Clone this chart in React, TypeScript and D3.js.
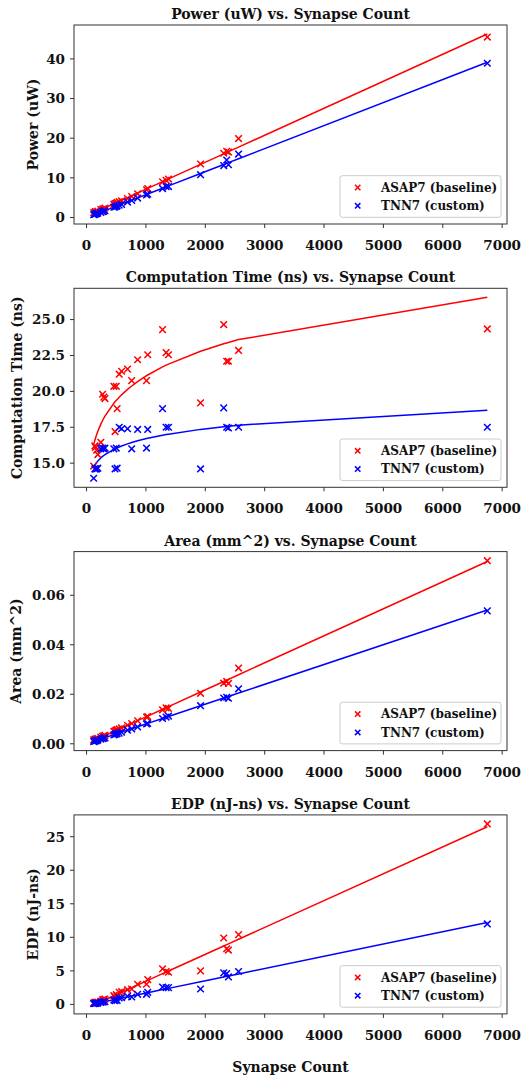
import React, { useEffect, useRef } from 'react';
import * as d3 from 'd3';

const SYNAPSES = [120, 140, 150, 170, 190, 240, 270, 290, 310, 460, 480, 500, 515, 550, 590, 690, 760, 860, 1010, 1030, 1280, 1340, 1380, 1920, 2310, 2360, 2390, 2560, 6750];

const POWER_ASAP7 = [1.2, 1.3, 1.5, 1.4, 1.6, 2.0, 2.1, 2.2, 2.4, 3.3, 3.5, 3.6, 3.8, 4.0, 4.2, 4.8, 5.3, 6.0, 7.0, 7.3, 9.0, 9.4, 9.7, 13.5, 16.2, 16.7, 16.5, 19.9, 45.5];
const POWER_TNN7 = [0.7, 0.8, 0.9, 1.0, 1.1, 1.3, 1.5, 1.6, 1.7, 2.6, 2.7, 2.8, 2.9, 3.1, 3.3, 3.9, 4.3, 4.9, 5.7, 5.9, 7.3, 7.8, 7.8, 10.8, 13.1, 14.5, 13.3, 16.0, 38.9];

const TIME_ASAP7 = [14.8, 16.2, 16.1, 15.9, 15.6, 16.45, 19.8, 19.6, 19.5, 20.35, 17.2, 20.35, 18.8, 21.2, 21.4, 21.55, 20.75, 22.2, 20.75, 22.55, 24.3, 22.7, 22.55, 19.2, 24.65, 22.1, 22.1, 22.85, 24.35];
const TIME_TNN7 = [13.95, 14.6, 14.6, 14.6, 14.65, 16.0, 16.05, 16.0, 16.05, 16.0, 14.6, 16.05, 14.65, 17.5, 17.4, 17.4, 16.0, 17.35, 16.05, 17.35, 18.8, 17.5, 17.5, 14.6, 18.85, 17.5, 17.45, 17.5, 17.5];

const AREA_ASAP7 = [0.0016, 0.0017, 0.0019, 0.002, 0.0022, 0.0027, 0.003, 0.0032, 0.0034, 0.005, 0.0052, 0.0055, 0.0057, 0.006, 0.0064, 0.0075, 0.0082, 0.0093, 0.0108, 0.011, 0.0137, 0.0145, 0.0143, 0.0204, 0.0245, 0.0252, 0.0244, 0.0306, 0.074];
const AREA_TNN7 = [0.0009, 0.0011, 0.0012, 0.0013, 0.0015, 0.0019, 0.0021, 0.0023, 0.0024, 0.0036, 0.0038, 0.004, 0.0041, 0.0043, 0.0047, 0.0055, 0.006, 0.0068, 0.008, 0.0082, 0.0102, 0.0108, 0.0112, 0.0154, 0.0185, 0.0188, 0.0184, 0.0222, 0.0537];

const EDP_ASAP7 = [0.2, 0.3, 0.3, 0.3, 0.35, 0.5, 0.7, 0.75, 0.8, 1.3, 1.05, 1.45, 1.3, 1.8, 1.9, 2.2, 2.3, 3.0, 3.0, 3.7, 5.3, 4.9, 4.8, 5.0, 9.9, 8.3, 8.1, 10.4, 26.9];
const EDP_TNN7 = [0.1, 0.15, 0.15, 0.2, 0.2, 0.3, 0.35, 0.4, 0.4, 0.65, 0.55, 0.7, 0.6, 0.95, 1.0, 1.2, 1.1, 1.5, 1.5, 1.8, 2.6, 2.5, 2.5, 2.3, 4.7, 4.6, 4.1, 4.9, 12.0];

const SERIES_NAMES = ['ASAP7 (baseline)', 'TNN7 (custom)'];
const SERIES_COLORS = ['#ff0000', '#0000ff'];

const X_TICKS = [0, 1000, 2000, 3000, 4000, 5000, 6000, 7000];
const POWER_TICKS = [0, 10, 20, 30, 40];
const TIME_TICKS = [15, 17.5, 20, 22.5, 25];
const AREA_TICKS = [0, 0.02, 0.04, 0.06];
const EDP_TICKS = [0, 5, 10, 15, 20, 25];

const PANELS = [
  { title: 'Power (uW) vs. Synapse Count', ylabel: 'Power (uW)', series: [POWER_ASAP7, POWER_TNN7], ticks: POWER_TICKS, fmt: d3.format('d'), fit: 'linear', labelX: 33 },
  { title: 'Computation Time (ns) vs. Synapse Count', ylabel: 'Computation Time (ns)', series: [TIME_ASAP7, TIME_TNN7], ticks: TIME_TICKS, fmt: d3.format('.1f'), fit: 'power', labelX: 17 },
  { title: 'Area (mm^2) vs. Synapse Count', ylabel: 'Area (mm^2)', series: [AREA_ASAP7, AREA_TNN7], ticks: AREA_TICKS, fmt: d3.format('.2f'), fit: 'linear', labelX: 16 },
  { title: 'EDP (nJ-ns) vs. Synapse Count', ylabel: 'EDP (nJ-ns)', series: [EDP_ASAP7, EDP_TNN7], ticks: EDP_TICKS, fmt: d3.format('d'), fit: 'linear', labelX: 33 },
];

const FONT = "'DejaVu Serif', serif";

function leastSquares(xs: number[], ys: number[]) {
  const n = xs.length;
  const mx = d3.mean(xs)!;
  const my = d3.mean(ys)!;
  let sxy = 0;
  let sxx = 0;
  for (let i = 0; i < n; i++) {
    sxy += (xs[i] - mx) * (ys[i] - my);
    sxx += (xs[i] - mx) ** 2;
  }
  const b = sxy / sxx;
  return { a: my - b * mx, b };
}

function fitter(kind: string, xs: number[], ys: number[]) {
  if (kind === 'power') {
    const { a, b } = leastSquares(xs.map(Math.log), ys.map(Math.log));
    return (x: number) => Math.exp(a) * Math.pow(x, b);
  }
  const { a, b } = leastSquares(xs, ys);
  return (x: number) => a + b * x;
}

function padded(lo: number, hi: number) {
  const m = (hi - lo) * 0.05;
  return [lo - m, hi + m];
}

export default function App() {
  const svgRef = useRef<SVGSVGElement>(null);

  useEffect(() => {
    const width = 527;
    const height = 1076;
    const svg = d3.select(svgRef.current);
    svg.selectAll('*').remove();
    svg.attr('width', width).attr('height', height).attr('viewBox', `0 0 ${width} ${height}`);

    const left = 74;
    const right = 507;
    const plotH = 199;
    const sortedX = Array.from(new Set(SYNAPSES)).sort((a, b) => a - b);

    const x = d3.scaleLinear()
      .domain(padded(d3.min(SYNAPSES)!, d3.max(SYNAPSES)!))
      .range([left, right]);

    PANELS.forEach((panel, pi) => {
      const top = 25 + pi * 263.3;
      const bottom = top + plotH;
      const g = svg.append('g');

      const fits = panel.series.map(ys => fitter(panel.fit, SYNAPSES, ys));
      const allY: number[] = [];
      panel.series.forEach(ys => allY.push(...ys));
      fits.forEach(f => sortedX.forEach(v => allY.push(f(v))));
      const y = d3.scaleLinear()
        .domain(padded(d3.min(allY)!, d3.max(allY)!))
        .range([bottom, top]);

      g.append('rect')
        .attr('x', left).attr('y', top)
        .attr('width', right - left).attr('height', plotH)
        .attr('fill', '#fff');

      const clipId = `clip${pi}`;
      g.append('clipPath').attr('id', clipId)
        .append('rect')
        .attr('x', left).attr('y', top)
        .attr('width', right - left).attr('height', plotH);

      const plot = g.append('g').attr('clip-path', `url(#${clipId})`);

      // fit lines
      fits.forEach((f, si) => {
        const line = d3.line<number>().x(v => x(v)).y(v => y(f(v)));
        plot.append('path')
          .attr('d', line(sortedX))
          .attr('fill', 'none')
          .attr('stroke', SERIES_COLORS[si])
          .attr('stroke-width', 1.5);
      });

      // scatter markers
      panel.series.forEach((ys, si) => {
        const s = 3.3;
        plot.append('g').selectAll('path')
          .data(SYNAPSES.map((v, i) => [v, ys[i]]))
          .join('path')
          .attr('d', d => {
            const cx = x(d[0]);
            const cy = y(d[1]);
            return `M${cx - s},${cy - s}L${cx + s},${cy + s}M${cx - s},${cy + s}L${cx + s},${cy - s}`;
          })
          .attr('stroke', SERIES_COLORS[si])
          .attr('stroke-width', 1.5)
          .attr('fill', 'none');
      });

      // frame
      g.append('rect')
        .attr('x', left).attr('y', top)
        .attr('width', right - left).attr('height', plotH)
        .attr('fill', 'none')
        .attr('stroke', '#333')
        .attr('stroke-width', 1);

      // x ticks
      X_TICKS.forEach(t => {
        g.append('line')
          .attr('x1', x(t)).attr('x2', x(t))
          .attr('y1', bottom).attr('y2', bottom + 4)
          .attr('stroke', '#333');
        g.append('text')
          .attr('x', x(t)).attr('y', bottom + 26)
          .attr('text-anchor', 'middle')
          .attr('font-family', FONT).attr('font-weight', 'bold').attr('font-size', 13.5)
          .attr('fill', '#111')
          .text(d3.format('d')(t));
      });

      // y ticks
      panel.ticks.forEach(t => {
        g.append('line')
          .attr('x1', left - 4).attr('x2', left)
          .attr('y1', y(t)).attr('y2', y(t))
          .attr('stroke', '#333');
        g.append('text')
          .attr('x', left - 9).attr('y', y(t))
          .attr('dy', '0.36em')
          .attr('text-anchor', 'end')
          .attr('font-family', FONT).attr('font-weight', 'bold').attr('font-size', 13.5)
          .attr('fill', '#111')
          .text(panel.fmt(t));
      });

      // title
      g.append('text')
        .attr('x', (left + right) / 2).attr('y', top - 6)
        .attr('text-anchor', 'middle')
        .attr('font-family', FONT).attr('font-weight', 'bold').attr('font-size', 14)
        .attr('fill', '#111')
        .text(panel.title);

      // y label
      g.append('text')
        .attr('transform', `translate(${panel.labelX},${(top + bottom) / 2}) rotate(-90)`)
        .attr('dy', '0.36em')
        .attr('text-anchor', 'middle')
        .attr('font-family', FONT).attr('font-weight', 'bold').attr('font-size', 14)
        .attr('fill', '#111')
        .text(panel.ylabel);

      // legend
      const lw = 161;
      const lh = 41.6;
      const lx = right - 6 - lw;
      const ly = bottom - 6.7 - lh;
      g.append('rect')
        .attr('x', lx).attr('y', ly)
        .attr('width', lw).attr('height', lh)
        .attr('rx', 2.5)
        .attr('fill', '#fff').attr('fill-opacity', 0.8)
        .attr('stroke', '#cccccc');
      SERIES_NAMES.forEach((name, si) => {
        const ry = ly + 11.8 + si * 18.3;
        const mx = lx + 17.7;
        const s = 2.7;
        g.append('path')
          .attr('d', `M${mx - s},${ry - s}L${mx + s},${ry + s}M${mx - s},${ry + s}L${mx + s},${ry - s}`)
          .attr('stroke', SERIES_COLORS[si])
          .attr('stroke-width', 1.5);
        g.append('text')
          .attr('x', lx + 41).attr('y', ry)
          .attr('dy', '0.36em')
          .attr('font-family', FONT).attr('font-weight', 'bold').attr('font-size', 12)
          .attr('fill', '#111')
          .text(name);
      });

      if (pi === PANELS.length - 1) {
        g.append('text')
          .attr('x', (left + right) / 2).attr('y', bottom + 58)
          .attr('text-anchor', 'middle')
          .attr('font-family', FONT).attr('font-weight', 'bold').attr('font-size', 14)
          .attr('fill', '#111')
          .text('Synapse Count');
      }
    });
  }, []);

  return (
    <div style={{ position: 'absolute', left: 0, top: 0 }}>
      <svg ref={svgRef} />
    </div>
  );
}
